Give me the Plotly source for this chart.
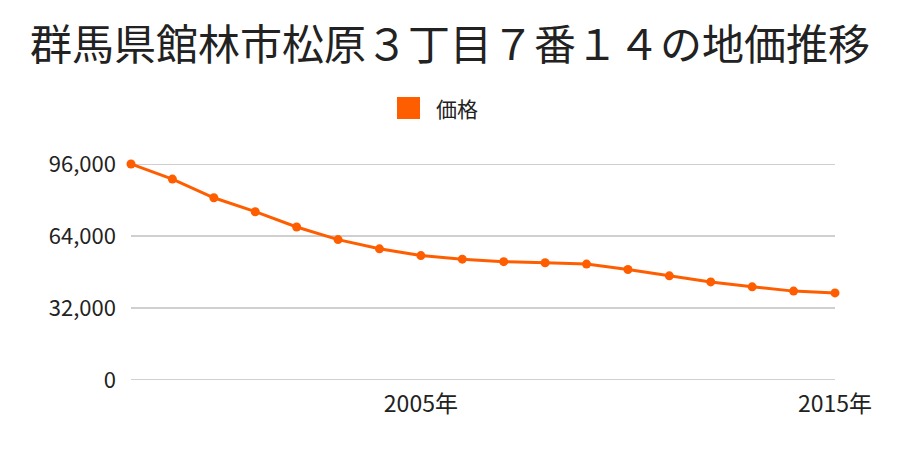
import plotly.graph_objects as go

years = list(range(1998, 2016))
prices = [96000, 89300, 81000, 74800, 68000, 62400, 58300, 55300, 53700,
          52600, 52100, 51500, 49100, 46300, 43600, 41400, 39500, 38700]
tick_years = [2005, 2015]
tick_labels = ["2005年", "2015年"]
y_ticks = [0, 32000, 64000, 96000]
y_tick_labels = ["0", "32,000", "64,000", "96,000"]
series_name = "価格"
title_text = "群馬県館林市松原３丁目７番１４の地価推移"

color = "#FF5E00"
font = "Noto Sans CJK JP"

# plot area in pixels
L, R, T, B = 131, 835, 164, 380
W, H = R - L, B - T

def px_x(p):
    return (p - L) / W

def px_y(p):
    return (B - p) / H

fig = go.Figure()
fig.add_trace(go.Scatter(
    x=years, y=prices, mode="lines+markers", name=series_name,
    line=dict(color=color, width=3),
    marker=dict(color=color, size=9, symbol="circle"),
    cliponaxis=False, showlegend=False,
))

# horizontal gridlines at the y tick values (drawn as shapes so edge lines show)
for v in y_ticks:
    fig.add_shape(type="line", xref="paper", yref="y", x0=0, x1=1, y0=v, y1=v,
                  line=dict(color="#a0a0a0", width=1), layer="below")

# legend drawn manually (square swatch + text)
fig.add_shape(type="rect", xref="paper", yref="paper",
              x0=px_x(397), x1=px_x(420), y0=px_y(119), y1=px_y(97),
              fillcolor=color, line=dict(width=0))
fig.add_annotation(text=series_name, xref="paper", yref="paper",
                   x=px_x(434), y=px_y(108), xanchor="left", yanchor="middle",
                   showarrow=False, font=dict(size=21, family=font, color="#222"))

fig.update_layout(
    width=900, height=450,
    paper_bgcolor="white", plot_bgcolor="white",
    margin=dict(l=L, r=900 - R, t=T, b=450 - B),
    font=dict(family=font, color="#222", size=22),
    title=dict(text=title_text, x=0.5, xanchor="center",
               y=1 - 45 / 450, yanchor="middle", yref="container",
               font=dict(size=42, family=font, color="#222")),
    showlegend=False,
    xaxis=dict(range=[1998, 2015], tickvals=tick_years, ticktext=tick_labels,
               showgrid=False, zeroline=False, showline=False, ticks="",
               ticklabelstandoff=8,
               tickfont=dict(size=23, family=font)),
    yaxis=dict(range=[0, 96000], tickvals=y_ticks, ticktext=y_tick_labels,
               showgrid=False, zeroline=False,
               showline=False, ticks="", ticklabelstandoff=14,
               tickfont=dict(size=22, family=font)),
)

fig.write_html("out.html")
